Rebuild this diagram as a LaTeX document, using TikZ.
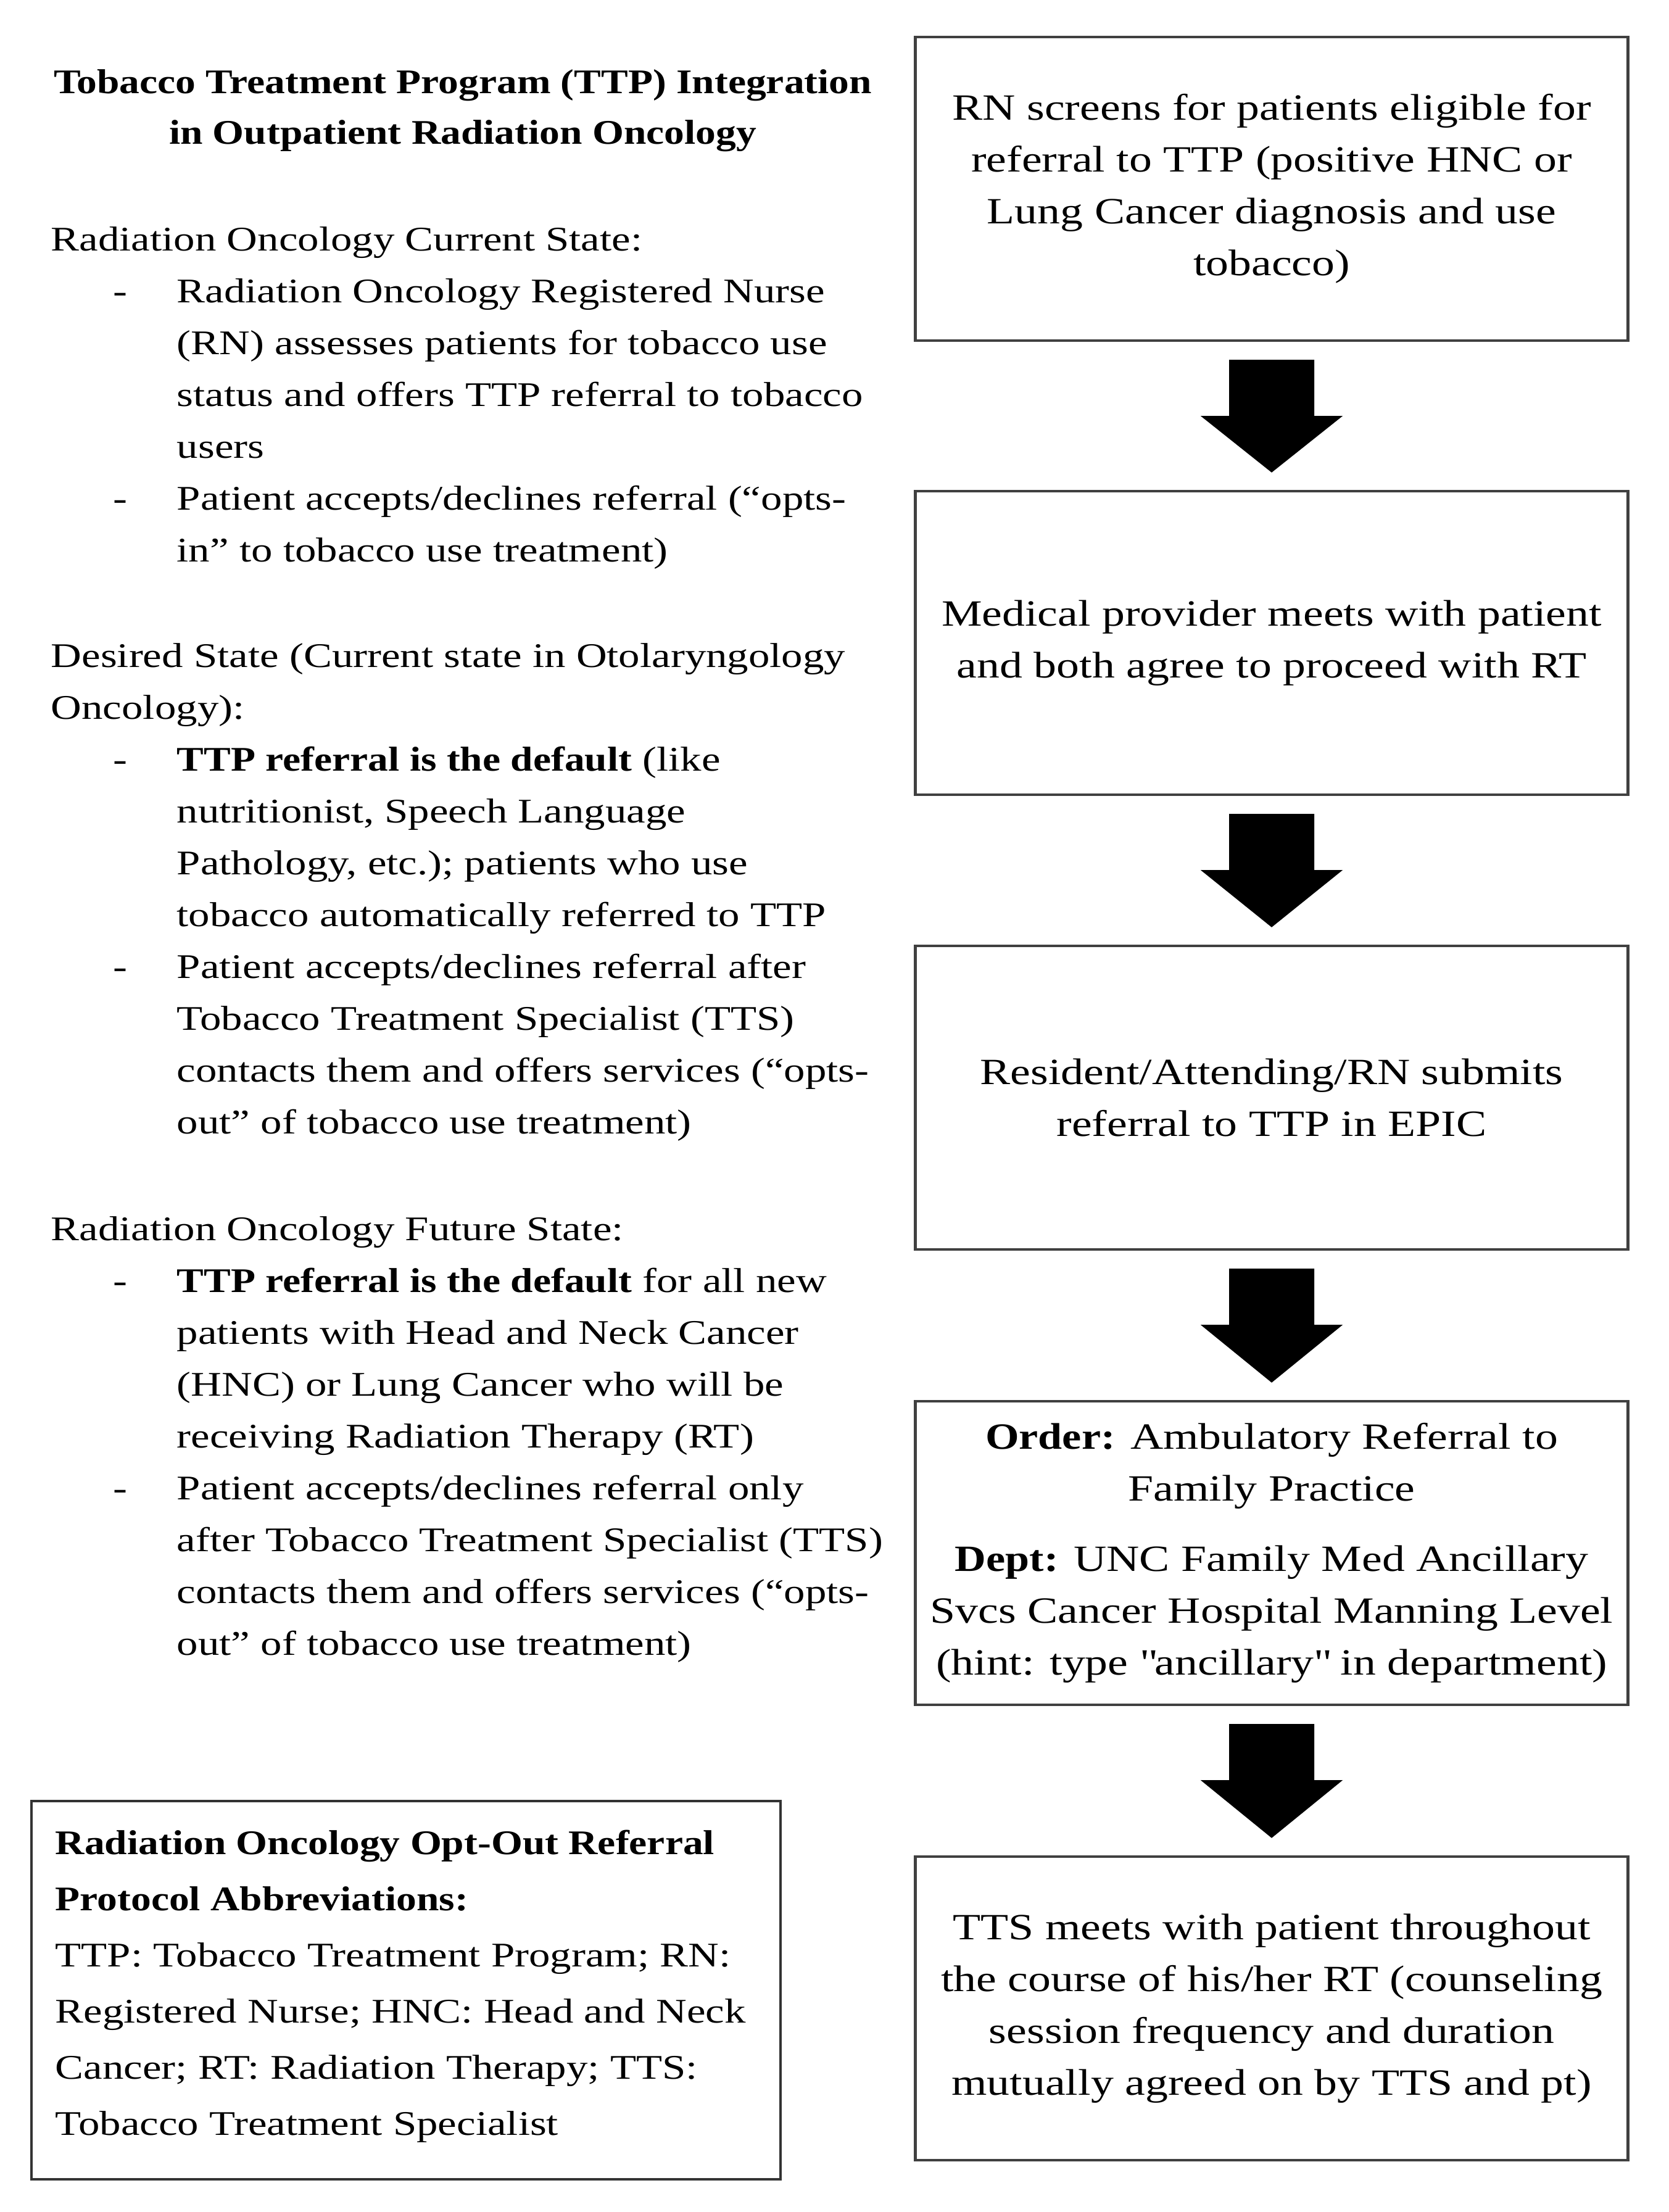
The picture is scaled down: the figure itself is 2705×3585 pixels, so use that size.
\documentclass[tikz,border=0pt]{standalone}
\usepackage{fontspec}
\setmainfont{Liberation Serif}[FakeStretch=1.23, BoldFeatures={FakeStretch=1.17}]
\usetikzlibrary{calc}
\newcommand{\bodyfont}{\fontsize{14pt}{21pt}\selectfont}
\newcommand{\boxfont}{\fontsize{15pt}{21pt}\selectfont}
\newcommand{\st}{\rule{0pt}{12pt}}
\newcommand{\flowarrow}[2]{%
  \fill ($(#1.south)+(-69,29)$) -- ($(#1.south)+(69,29)$) -- ($(#1.south)+(69,120)$)
     -- ($(#1.south)+(115,120)$) -- ($(#2.north)+(0,-28)$) -- ($(#1.south)+(-115,120)$)
     -- ($(#1.south)+(-69,120)$) -- cycle;}
\tikzset{
  box/.style={draw=black!75, line width=1.1pt, minimum width=288.75pt, minimum height=123pt,
              align=center, inner sep=0pt, font=\boxfont},
  txt/.style={anchor=north west, inner sep=0pt, align=left, font=\bodyfont},
  titletxt/.style={anchor=north, inner sep=0pt, align=center, font=\bfseries\fontsize{14pt}{20.5pt}\selectfont},
  abbrbox/.style={draw=black!80, line width=1.1pt, minimum width=303.5pt, minimum height=153.25pt,
              inner sep=0pt, anchor=north west},
}
\begin{document}
\begin{tikzpicture}[x=0.25pt,y=-0.25pt]
\path[use as bounding box, fill=white] (0,0) rectangle (2705,3585);

% title
\node[titletxt] (title) at (750,103) {\st Tobacco Treatment Program (TTP) Integration\\in Outpatient Radiation Oncology};

% section 1
\node[txt] (h1) at (82,358) {\st Radiation Oncology Current State:};
\node[txt] (d1a) at (183,442) {\st -};
\node[txt] (d1b) at (183,778) {\st -};
\node[txt] (l1) at (286,442) {\st Radiation Oncology Registered Nurse\\(RN) assesses patients for tobacco use\\status and offers TTP referral to tobacco\\users\\Patient accepts/declines referral (``opts-\\in'' to tobacco use treatment)};

% section 2
\node[txt] (h2) at (82,1033) {\st Desired State (Current state in Otolaryngology\\Oncology):};
\node[txt] (d2a) at (183,1201) {\st -};
\node[txt] (d2b) at (183,1537) {\st -};
\node[txt] (l2) at (286,1201) {\st \textbf{TTP referral is the default} (like\\nutritionist, Speech Language\\Pathology, etc.); patients who use\\tobacco automatically referred to TTP\\Patient accepts/declines referral after\\Tobacco Treatment Specialist (TTS)\\contacts them and offers services (``opts-\\out'' of tobacco use treatment)};

% section 3
\node[txt] (h3) at (82,1962) {\st Radiation Oncology Future State:};
\node[txt] (d3a) at (183,2046) {\st -};
\node[txt] (d3b) at (183,2382) {\st -};
\node[txt] (l3) at (286,2046) {\st \textbf{TTP referral is the default} for all new\\patients with Head and Neck Cancer\\(HNC) or Lung Cancer who will be\\receiving Radiation Therapy (RT)\\Patient accepts/declines referral only\\after Tobacco Treatment Specialist (TTS)\\contacts them and offers services (``opts-\\out'' of tobacco use treatment)};

% abbreviations
\node[abbrbox] (abbr) at (49,2917) {};
\node[txt, font=\fontsize{14pt}{22.75pt}\selectfont] (abbrtxt) at ($(abbr.north west)+(40,40)$) {\st \textbf{Radiation Oncology Opt-Out Referral}\\\textbf{Protocol Abbreviations:}\\TTP: Tobacco Treatment Program; RN:\\Registered Nurse; HNC: Head and Neck\\Cancer; RT: Radiation Therapy; TTS:\\Tobacco Treatment Specialist};

% flow boxes
\node[box] (b1) at (2061,306) {RN screens for patients eligible for\\referral to TTP (positive HNC or\\Lung Cancer diagnosis and use\\tobacco)};
\node[box] (b2) at (2061,1042) {Medical provider meets with patient\\and both agree to proceed with RT};
\node[box] (b3) at (2061,1779) {Resident/Attending/RN submits\\referral to TTP in EPIC};
\node[box] (b4) at (2061,2517) {\textbf{Order:} Ambulatory Referral to\\Family Practice\\[7.5pt]\textbf{Dept:} UNC Family Med Ancillary\\Svcs Cancer Hospital Manning Level\\(hint: type \textquotedbl ancillary\textquotedbl{} in department)};
\node[box] (b5) at (2061,3255) {TTS meets with patient throughout\\the course of his/her RT (counseling\\session frequency and duration\\mutually agreed on by TTS and pt)};

\flowarrow{b1}{b2}
\flowarrow{b2}{b3}
\flowarrow{b3}{b4}
\flowarrow{b4}{b5}
\end{tikzpicture}
\end{document}
